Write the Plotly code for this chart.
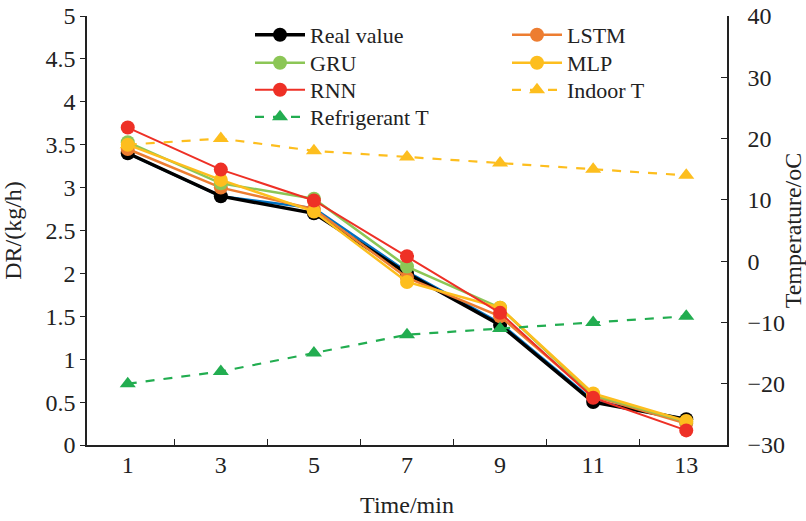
import plotly.graph_objects as go

time_min = ["1", "3", "5", "7", "9", "11", "13"]
real_value = [3.40, 2.90, 2.70, 2.00, 1.40, 0.50, 0.30]
lstm = [3.45, 3.00, 2.75, 1.95, 1.50, 0.57, 0.25]
gru = [3.53, 3.05, 2.87, 2.08, 1.60, 0.58, 0.27]
mlp = [3.50, 3.09, 2.72, 1.90, 1.60, 0.60, 0.28]
rnn = [3.70, 3.21, 2.85, 2.20, 1.54, 0.55, 0.17]
hidden_blue = [3.40, 2.90, 2.76, 2.02, 1.42, 0.52, 0.30]
indoor_t = [19, 20, 18, 17, 16, 15, 14]
refrigerant_t = [-20, -18, -15, -12, -11, -10, -9]

FONT = "Times New Roman, Liberation Serif, serif"
TF = 24
LF = 22

W, H = 806, 521
PL, PT, PW, PH = 87, 16, 640, 429

fig = go.Figure()

fig.add_trace(go.Scatter(x=time_min, y=hidden_blue, mode="lines",
                         line=dict(color="#0070C0", width=2.5), showlegend=False))

def model_trace(name, y, color, width, legend):
    return go.Scatter(x=time_min, y=y, name=name, mode="lines+markers",
                      line=dict(color=color, width=width),
                      marker=dict(color=color, size=14, symbol="circle"),
                      legend=legend)

fig.add_trace(model_trace("Real value", real_value, "#000000", 3.5, "legend"))
fig.add_trace(model_trace("LSTM", lstm, "#ED7D31", 2.5, "legend2"))
fig.add_trace(model_trace("GRU", gru, "#8CC656", 2.5, "legend3"))
fig.add_trace(model_trace("MLP", mlp, "#FDBE1E", 2.5, "legend4"))
fig.add_trace(model_trace("RNN", rnn, "#EE3026", 2.0, "legend5"))

fig.add_trace(go.Scatter(x=time_min, y=indoor_t, name="Indoor T", mode="lines+markers",
                         line=dict(color="#FDBE1E", width=2.2, dash="dash"),
                         marker=dict(color="#FDBE1E", size=14, symbol="triangle-up"),
                         yaxis="y2", legend="legend6"))
fig.add_trace(go.Scatter(x=time_min, y=refrigerant_t, name="Refrigerant T", mode="lines+markers",
                         line=dict(color="#22AD50", width=2.2, dash="dash"),
                         marker=dict(color="#22AD50", size=14, symbol="triangle-up"),
                         yaxis="y2", legend="legend7"))

def leg(px, py):
    # px: x where legend line begins, py: y of row centre (pixels)
    return dict(x=(px - 8 - PL) / PW, y=1 - (py - PT) / PH,
                xanchor="left", yanchor="middle",
                font=dict(family=FONT, size=LF, color="#222222"),
                bgcolor="rgba(0,0,0,0)", itemwidth=50)

COL1, COL2 = 258, 515
fig.update_layout(
    width=W, height=H,
    margin=dict(l=PL, r=W - PL - PW, t=PT, b=H - PT - PH, autoexpand=False),
    paper_bgcolor="white", plot_bgcolor="white",
    font=dict(family=FONT, size=TF, color="#222222"),
    xaxis=dict(type="category", showline=True, linecolor="#222222", linewidth=1.5,
               ticks="inside", tickson="boundaries", ticklen=6, tickcolor="#222222",
               showgrid=False, zeroline=False, automargin=False, ticklabelstandoff=-3,
               title=dict(text="Time/min", font=dict(size=TF), standoff=20),
               tickfont=dict(size=TF)),
    yaxis=dict(range=[0, 5], dtick=0.5, showline=True, linecolor="#222222", linewidth=1.5,
               ticks="outside", ticklen=5, tickcolor="#222222", showgrid=False, zeroline=False,
               automargin=False, ticklabeloverflow="allow",
               title=dict(text="DR/(kg/h)", font=dict(size=TF), standoff=22),
               tickfont=dict(size=TF)),
    yaxis2=dict(range=[-30, 40], dtick=10, overlaying="y", side="right", anchor="x",
                showline=True, linecolor="#222222", linewidth=1.5, automargin=False,
                ticks="inside", ticklen=6, tickcolor="#222222", showgrid=False, zeroline=False,
                ticklabelstandoff=14, ticklabeloverflow="allow",
                title=dict(text="Temperature/oC", font=dict(size=TF), standoff=7),
                tickfont=dict(size=TF)),
    legend=leg(COL1, 35),
    legend3=leg(COL1, 63),
    legend5=leg(COL1, 90),
    legend7=leg(COL1, 117),
    legend2=leg(COL2, 35),
    legend4=leg(COL2, 63),
    legend6=leg(COL2, 90),
)

fig.write_html("out.html", config={"displayModeBar": False},
               post_script="document.body.style.margin='0px';")
